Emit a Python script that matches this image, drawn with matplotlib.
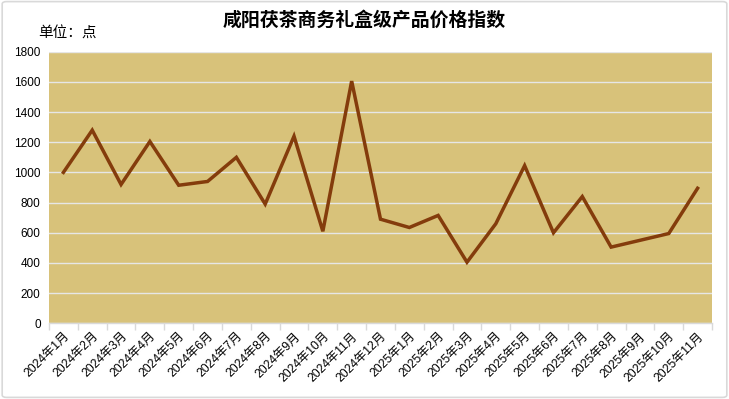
import matplotlib
matplotlib.use("Agg")
import matplotlib.pyplot as plt
from matplotlib.patches import FancyBboxPatch
from matplotlib.ticker import FixedLocator

months = ["2024年1月", "2024年2月", "2024年3月", "2024年4月", "2024年5月", "2024年6月",
          "2024年7月", "2024年8月", "2024年9月", "2024年10月", "2024年11月", "2024年12月",
          "2025年1月", "2025年2月", "2025年3月", "2025年4月", "2025年5月", "2025年6月",
          "2025年7月", "2025年8月", "2025年9月", "2025年10月", "2025年11月"]
index_values = [1000, 1280, 920, 1205, 915, 940, 1100, 790, 1240, 610, 1605, 690,
                635, 715, 405, 660, 1045, 600, 840, 505, 550, 595, 895]
y_ticks = [0, 200, 400, 600, 800, 1000, 1200, 1400, 1600, 1800]
title = "咸阳茯茶商务礼盒级产品价格指数"
unit_label = "单位：点"

plt.rcParams['font.family'] = ['Liberation Sans', 'Noto Sans CJK SC', 'DejaVu Sans']

fig = plt.figure(figsize=(7.29, 3.99), dpi=100)
fig.patch.set_facecolor('white')
border = FancyBboxPatch((0.003, 0.004), 0.994, 0.992, boxstyle="round,pad=0,rounding_size=0.006",
                        transform=fig.transFigure, facecolor='none', edgecolor='#D9D9D9', linewidth=1.2)
fig.patches.append(border)

ax = fig.add_axes([0.0672, 0.1897, 0.9095, 0.6807])
ax.set_facecolor('#D8C27A')
x = list(range(len(months)))
ax.plot(x, index_values, color='#843C0C', linewidth=2.5, solid_joinstyle='miter', zorder=3)

ax.set_xlim(-0.5, len(months) - 0.5)
ax.set_ylim(0, 1800)
ax.set_yticks(y_ticks)
ax.set_yticklabels([str(v) for v in y_ticks], fontsize=8.5, color='#000000')
ax.grid(axis='y', color='#E6E6E6', linewidth=1.0, zorder=1)
ax.set_axisbelow(True)

for s in ['top', 'right', 'left']:
    ax.spines[s].set_visible(False)
ax.spines['bottom'].set_color('#D9D9D9')
ax.spines['bottom'].set_linewidth(1.0)

ax.set_xticks(x)
ax.set_xticklabels(months, rotation=45, ha='right', va='top', rotation_mode='anchor',
                   fontsize=8.7, color='#000000')
ax.tick_params(axis='x', which='major', length=0, pad=5)
ax.xaxis.set_minor_locator(FixedLocator([i - 0.5 for i in range(len(months) + 1)]))
ax.tick_params(axis='x', which='minor', length=5, color='#D9D9D9', width=1.0)
ax.tick_params(axis='y', length=0, pad=6)

fig.text(0.5, 0.948, title, ha='center', va='center',
         fontsize=13.6, fontweight='bold', family=['Noto Sans CJK SC'])
fig.text(0.052, 0.915, unit_label, ha='left', va='center', fontsize=10.5,
         family=['Noto Sans CJK SC'])

fig.savefig('out.png', dpi=100, facecolor='white')
